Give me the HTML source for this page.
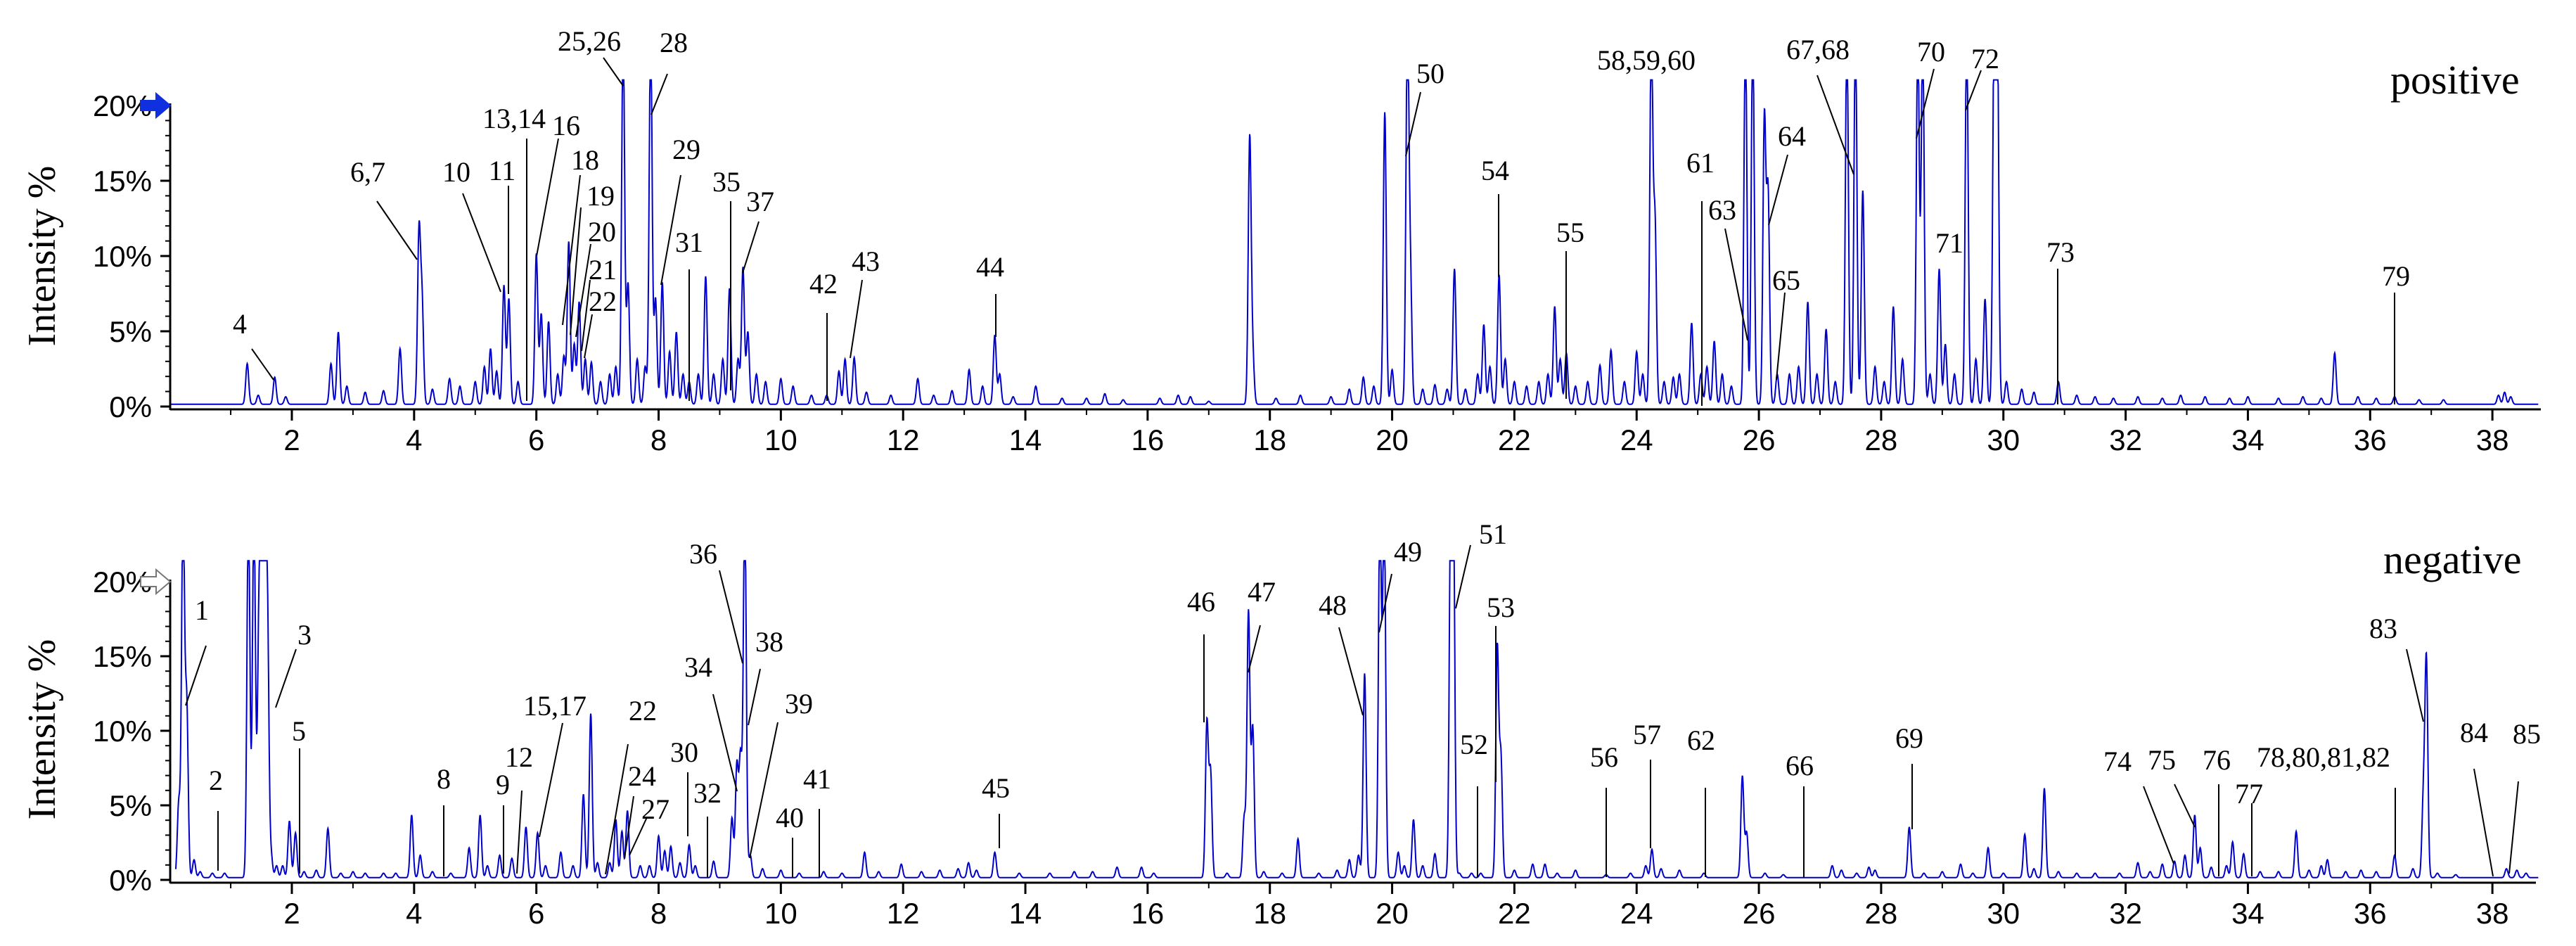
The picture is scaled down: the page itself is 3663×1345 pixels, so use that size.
<!DOCTYPE html>
<html><head><meta charset="utf-8"><style>
html,body{margin:0;padding:0;background:#fff;}
svg{display:block;}
.lab{font-family:"Liberation Serif",serif;font-size:40px;fill:#000;}
.tk{font-family:"Liberation Sans",sans-serif;font-size:42px;fill:#000;}
.ttl{font-family:"Liberation Serif",serif;font-size:56px;fill:#000;}
.mode{font-family:"Liberation Serif",serif;font-size:58px;fill:#000;}
</style></head><body>
<svg id="chart" width="3663" height="1345" viewBox="0 0 3663 1345" xmlns="http://www.w3.org/2000/svg"></svg>
<script>
// ---- data ----
const xTickLabels = [2,4,6,8,10,12,14,16,18,20,22,24,26,28,30,32,34,36,38];
const yTickLabels = [0,5,10,15,20];
const posTimes = [1.27,1.45,1.72,1.9,2.64,2.76,2.9,3.2,3.5,3.77,4.08,4.13,4.3,4.58,4.75,5.0,5.15,5.25,5.35,5.47,5.55,5.7,6.0,6.08,6.2,6.35,6.45,6.53,6.62,6.7,6.8,6.9,7.05,7.2,7.3,7.42,7.5,7.65,7.78,7.87,7.95,8.06,8.18,8.29,8.4,8.5,8.65,8.77,8.9,9.05,9.16,9.3,9.38,9.46,9.6,9.75,10.0,10.2,10.5,10.75,10.95,11.05,11.2,11.4,11.8,12.24,12.5,12.8,13.08,13.3,13.5,13.58,13.8,14.17,14.6,15.0,15.3,15.6,16.2,16.5,16.7,17.0,17.67,17.72,18.1,18.5,19.0,19.3,19.53,19.7,19.88,20.0,20.25,20.3,20.5,20.7,20.9,21.02,21.2,21.4,21.5,21.6,21.75,21.85,22.0,22.2,22.4,22.55,22.66,22.75,22.85,23.0,23.2,23.4,23.58,23.8,24.0,24.1,24.24,24.3,24.45,24.6,24.7,24.9,25.05,25.15,25.27,25.4,25.55,25.78,25.9,26.09,26.15,26.3,26.5,26.65,26.8,26.95,27.1,27.25,27.44,27.58,27.7,27.9,28.05,28.2,28.35,28.6,28.68,28.8,28.95,29.05,29.2,29.4,29.55,29.7,29.85,29.9,30.05,30.3,30.5,30.9,31.2,31.5,31.8,32.2,32.6,32.9,33.3,33.7,34.0,34.5,34.9,35.2,35.42,35.8,36.1,36.4,36.8,37.2,38.1,38.2,38.3];
const posHeights = [2.7,0.6,1.8,0.5,2.7,4.8,1.2,0.8,0.9,3.7,11.3,6.7,1,1.7,1.2,1.5,2.5,3.7,2.2,7.9,7,1.5,10,6,5.5,2,3.2,10.8,4,6.8,3,2.8,1.5,2,2.5,25,8,3,2.5,25,7,8.1,3.5,4.8,2,1.5,2,8.5,2,3,7.7,3,9.1,4.8,2,1.5,1.7,1.2,0.6,0.6,2.2,3,3.1,0.8,0.6,1.7,0.6,0.9,2.3,1.2,4.6,2,0.5,1.2,0.4,0.4,0.7,0.3,0.4,0.6,0.5,0.2,17.6,3,0.4,0.6,0.5,1,1.8,1.2,19.4,2.3,25,8,1,1.3,1,9,1,2,5.3,2.5,8.6,3,1.5,1.2,1.5,2,6.5,3,3.4,1.2,1.5,2.6,3.6,1.5,3.5,2,25,12,1.5,1.8,2,5.4,2,2.5,4.2,2,1.2,25,25,19,14,2,2,2.5,6.8,2,5,1.5,25,25,14.2,2.5,1.5,6.5,3,25,25,2,9,4,2,25,3,7,25,25,1.5,1,0.8,1.5,0.6,0.5,0.4,0.5,0.4,0.6,0.5,0.4,0.5,0.4,0.5,0.4,3.4,0.5,0.4,0.5,0.3,0.3,0.6,0.8,0.5];
const negTimes = [0.15,0.22,0.28,0.4,0.5,0.7,0.9,1.29,1.38,1.46,1.5,1.55,1.6,1.66,1.75,1.85,1.96,2.06,2.2,2.4,2.59,2.8,3.0,3.2,3.5,3.7,3.96,4.1,4.3,4.6,4.9,5.08,5.2,5.4,5.6,5.83,6.02,6.15,6.4,6.6,6.77,6.89,7.0,7.2,7.3,7.4,7.49,7.7,7.85,8.0,8.1,8.2,8.35,8.5,8.6,8.9,9.2,9.28,9.34,9.41,9.5,9.7,10.0,10.3,10.7,11.0,11.37,11.6,11.97,12.3,12.6,12.9,13.07,13.2,13.5,13.9,14.4,14.8,15.1,15.5,15.9,16.1,16.97,17.03,17.3,17.58,17.65,17.72,17.9,18.2,18.46,18.8,19.1,19.3,19.45,19.55,19.8,19.87,20.1,20.2,20.35,20.5,20.7,20.96,21.0,21.1,21.3,21.45,21.72,21.78,22.0,22.3,22.5,22.7,23.0,23.5,23.9,24.15,24.25,24.4,24.7,25.1,25.73,25.8,26.1,26.4,27.2,27.35,27.6,27.8,27.9,28.46,28.7,29.0,29.3,29.5,29.75,30.0,30.35,30.5,30.67,30.9,31.2,31.5,31.9,32.2,32.4,32.6,32.8,32.97,33.13,33.22,33.4,33.65,33.75,33.93,34.2,34.5,34.79,35.0,35.2,35.3,35.6,35.85,36.1,36.4,36.7,36.87,36.92,37.1,37.4,38.23,38.4,38.55];
const negHeights = [5,25,11.5,1.2,0.4,0.3,0.3,25,25,15,17,25,17.4,1.5,0.8,0.8,3.8,3,0.4,0.5,3.3,0.3,0.4,0.3,0.3,0.3,4.2,1.5,0.4,0.3,2,4.2,0.8,1.5,1.3,3.4,3,0.8,1.7,0.8,5.6,11,1,1,3.9,3.1,4.5,0.8,0.8,2.8,1.8,2.1,1,2.2,0.8,1.1,4,7.5,8,25,1.5,0.6,0.5,0.3,0.4,0.3,1.7,0.4,0.9,0.4,0.5,0.6,1,0.5,1.7,0.3,0.3,0.4,0.4,0.7,0.7,0.3,10.4,7,0.3,4,17.8,10,0.4,0.3,2.6,0.3,0.5,1.2,1.5,13.7,25,25,1.7,0.8,3.9,0.8,1.6,25,25,0.3,0.3,0.3,15.4,8,0.5,0.9,0.9,0.3,0.5,0.2,0.3,0.8,1.9,0.6,0.5,0.3,6.8,3,0.3,0.2,0.8,0.5,0.3,0.7,0.5,3.4,0.3,0.4,0.9,0.3,2,0.3,2.9,0.6,6,0.4,0.3,0.3,0.3,1,0.4,0.9,1.1,1.5,4.2,2,0.7,0.8,2.4,1.6,0.4,0.4,3.1,0.5,0.8,1.2,0.4,0.5,0.4,1.5,0.6,5,14.5,0.3,0.2,0.6,0.5,0.3];

// ---- layout ----
const NS = "http://www.w3.org/2000/svg";
const svg = document.getElementById('chart');
const X0 = 415, PXMIN = 86.92;
function xs(t){ return X0 + (t-2)*PXMIN; }
function mk(tag, attrs, parent){
  const e = document.createElementNS(NS, tag);
  for (const k in attrs) e.setAttribute(k, attrs[k]);
  (parent||svg).appendChild(e); return e;
}
const panels = [
  {key:'positive', y0:578, ppp:21.4, clip:21.7, tStart:0.0, axEnd:3613, times:posTimes, heights:posHeights, mode:'positive', modeX:3399, modeY:133, filledArrow:true},
  {key:'negative', y0:1251, ppp:21.2, clip:21.4, tStart:0.1, axEnd:3606, times:negTimes, heights:negHeights, mode:'negative', modeX:3389, modeY:815, filledArrow:false}
];
panels.forEach(p=>{
  const g = mk('g', {});
  
  
  const ys = v => p.y0 - v*p.ppp;
  let d = '';
  for (let i=0;;i++){
    const t = p.tStart + i*0.005; if (t>38.75) break;
    let v = 0.15;
    for (let k=0;k<p.times.length;k++){
      const dt = t-p.times[k];
      if (dt>-0.15 && dt<0.15) v += p.heights[k]*Math.exp(-dt*dt/(2*0.024*0.024));
    }
    if (v>p.clip) v=p.clip;
    d += (i?'L':'M') + xs(t).toFixed(1) + ',' + ys(v).toFixed(1);
  }
  const tr = mk('path', {d:d, fill:'none', stroke:'#0000c8', 'stroke-width':2}, g);
  
  
  const ax = mk('g', {stroke:'#000', 'stroke-width':3}, g);
  
  
  mk('line', {x1:242, y1:p.y0+4, x2:p.axEnd, y2:p.y0+4}, ax);
  mk('line', {x1:242, y1:p.y0+5, x2:242, y2:ys(20)-3}, ax);
  for (let m=1;m<=38;m++){
    const major = m%2===0;
    mk('line', {x1:xs(m), y1:p.y0+4, x2:xs(m), y2:p.y0+(major?20:12), 'stroke-width':major?3:2}, ax);
  }
  for (let v=0; v<=20; v++){
    const major = v%5===0;
    mk('line', {x1:242, y1:ys(v), x2:major?228:235, y2:ys(v), 'stroke-width':major?3:2}, ax);
  }
  xTickLabels.forEach(lb=>{
    const tx = mk('text', {x:xs(lb), y:p.y0+62, 'text-anchor':'middle', class:'tk'}, g);
    tx.textContent = lb;
    
    
  });
  yTickLabels.forEach(lb=>{
    const tx = mk('text', {x:216, y:ys(lb)+15, 'text-anchor':'end', class:'tk'}, g);
    tx.textContent = lb + '%';
    
    
  });
  const yt = mk('text', {x:0, y:0, 'text-anchor':'middle', class:'ttl', transform:'translate(78,'+(p.y0-214)+') rotate(-90)'}, g);
  yt.textContent = 'Intensity  %';
  
  
  const md = mk('text', {x:p.modeX, y:p.modeY, class:'mode'}, g);
  md.textContent = p.mode;
  
  
  const ay = ys(20);
  const arr = mk('path', {d:'M200,'+(ay-7)+' L222,'+(ay-7)+' L222,'+(ay-17)+' L242,'+ay+' L222,'+(ay+17)+' L222,'+(ay+7)+' L200,'+(ay+7)+' Z',
    fill:p.filledArrow?'#1030e0':'#fff', stroke:p.filledArrow?'#1030e0':'#777', 'stroke-width':2}, g);
  
  
});

const notes = [
 ['4',341,460,358,496,389,540],['6,7',523,244,536,286,593,369],['10',649,244,658,275,712,415],
 ['11',714,242,723,264,723,418],['13,14',731,168,749,197,749,570],['16',805,178,794,197,763,364],
 ['18',832,227,825,249,800,462],['19',854,278,826,295,811,476],['20',856,329,840,347,819,479],
 ['21',857,383,839,398,827,499],['22',857,428,842,447,831,509],['25,26',838,58,858,82,886,122],
 ['28',958,60,949,105,926,163],['29',976,212,968,249,940,405],['31',980,344,980,383,980,570],
 ['35',1033,258,1039,286,1039,555],['37',1081,286,1079,315,1056,388],['42',1171,403,1176,445,1176,570],
 ['43',1231,371,1226,398,1209,509],['44',1408,379,1416,418,1416,479],['50',2034,104,2020,131,1999,222],
 ['54',2126,242,2131,276,2131,394],['55',2233,330,2227,357,2227,567],['58,59,60',2341,85,0,0,0,0],
 ['61',2418,231,2420,286,2420,577],['63',2449,298,2453,325,2485,484],['64',2548,193,2542,220,2515,320],
 ['65',2540,398,2538,416,2526,540],['67,68',2585,70,2584,107,2636,248],['70',2746,73,2750,98,2725,197],
 ['72',2823,83,2817,100,2795,157],['71',2772,345,0,0,0,0],['73',2930,358,2926,382,2926,575],
 ['79',3407,392,3405,416,3405,575],
 ['1',287,867,293,918,264,1003],['2',307,1109,310,1153,310,1238],['3',433,902,421,923,392,1006],
 ['5',425,1039,426,1064,426,1242],['8',631,1107,631,1145,631,1246],['9',715,1115,716,1145,716,1242],
 ['12',738,1076,742,1124,735,1242],['15,17',789,1003,800,1028,767,1190],['22',914,1010,893,1058,861,1243],
 ['24',913,1103,901,1132,888,1220],['27',932,1150,920,1162,895,1216],['30',973,1069,978,1098,978,1189],
 ['32',1006,1127,1006,1161,1006,1247],['34',993,948,1014,987,1048,1125],['36',1000,787,1023,811,1056,943],
 ['38',1094,912,1081,951,1064,1031],['39',1136,1000,1106,1027,1066,1220],['40',1123,1162,1127,1191,1127,1247],
 ['41',1162,1107,1165,1150,1165,1247],['45',1416,1120,1421,1157,1421,1206],['46',1708,855,1712,902,1712,1027],
 ['47',1794,841,1792,889,1775,956],['48',1895,860,1904,892,1938,1017],['49',2002,784,1979,816,1961,899],
 ['51',2123,759,2091,775,2070,865],['52',2096,1058,2101,1118,2101,1247],['53',2134,863,2127,890,2127,1112],
 ['56',2281,1076,2284,1120,2284,1247],['57',2342,1044,2347,1080,2347,1206],['62',2419,1052,2425,1120,2425,1247],
 ['66',2559,1088,2565,1118,2565,1247],['69',2715,1049,2719,1086,2719,1179],['74',3011,1082,3048,1118,3091,1228],
 ['75',3074,1080,3092,1115,3121,1176],['76',3152,1080,3155,1115,3155,1246],['77',3198,1128,3202,1142,3202,1246],
 ['78,80,81,82',3304,1076,3406,1120,3406,1219],['83',3389,893,3422,923,3446,1026],['84',3518,1041,3518,1093,3545,1246],
 ['85',3593,1043,3581,1111,3568,1242]
];
const ng = mk('g', {});


notes.forEach(n=>{
  const tx = mk('text', {x:n[1], y:n[2]+14, 'text-anchor':'middle', class:'lab'}, ng);
  tx.textContent = n[0];
  
  
  if (n[3]) {
    const ln = mk('line', {x1:n[3], y1:n[4], x2:n[5], y2:n[6], stroke:'#000', 'stroke-width':2}, ng);
    
    
  }
});
</script>
</body></html>
